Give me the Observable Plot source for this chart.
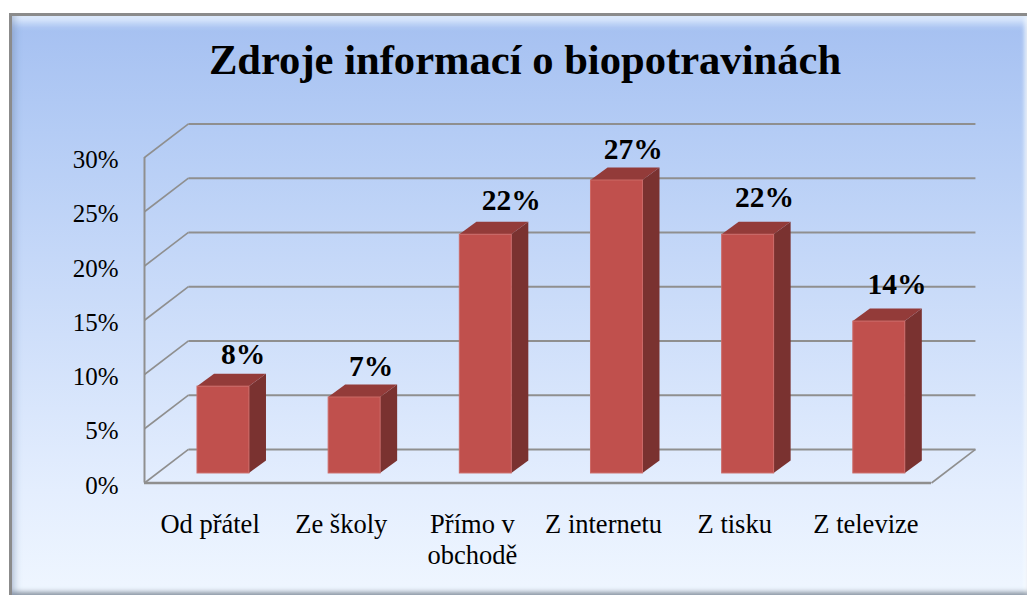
<!DOCTYPE html>
<html lang="cs">
<head>
<meta charset="utf-8">
<script src="https://cdn.jsdelivr.net/npm/d3@7"></script>
<script src="https://cdn.jsdelivr.net/npm/@observablehq/plot@0.6"></script>
<style>
  html, body { margin: 0; padding: 0; background: #fff; width: 1027px; height: 595px; overflow: hidden; }
  #frame {
    position: absolute; left: 9px; top: 13px; width: 1018px; height: 582px; box-sizing: border-box;
    background: linear-gradient(180deg, #a5c0f1 0%, #b4ccf5 20%, #cfdffa 55%, #e4eefe 82%, #eff6ff 100%);
    border-left: 3px solid #8b8b8b; border-top: 3px solid #8b8b8b;
    box-shadow: inset 8px 0 7px -5px rgba(90,110,150,.35),
                inset 0 11px 8px -4px rgba(235,245,255,.85),
                inset 0 -6px 5px -3px rgba(110,120,135,.75),
                inset -5px 0 4px -3px rgba(255,255,255,.9);
  }
  h1 {
    position: absolute; left: 0; top: 37px; width: 1050px; margin: 0; text-align: center;
    font: bold 42.6px/46px "Liberation Serif", serif; color: #000; white-space: nowrap;
  }
  #chart { position: absolute; left: 0; top: 0; }
</style>
</head>
<body>
<div id="frame"></div>
<h1>Zdroje informací o biopotravinách</h1>
<div id="chart"></div>
<script>
const categories = ["Od přátel", "Ze školy", "Přímo v\nobchodě", "Z internetu", "Z tisku", "Z televize"];
const shares = [8, 7, 22, 27, 22, 14];
const yTicks = [0, 5, 10, 15, 20, 25, 30];

// Oblique projection expressed in data units (categories on x, percent on y)
const wallX = 0.335, wallY = 3.09;      // depth of the floor
const barOffsetX = 0.404, barWidth = 0.396;
const barFloorY = 0.88;
const barDepthX = 0.13, barDepthY = 1.15;

const bars = shares.map((v, i) => ({
  i, v,
  x1: i + barOffsetX,
  x2: i + barOffsetX + barWidth,
  y1: barFloorY,
  y2: barFloorY + v
}));
const sideFaces = bars.flatMap(b => [
  {i: b.i, x: b.x2, y1: b.y1, y2: b.y2},
  {i: b.i, x: b.x2 + barDepthX, y1: b.y1 + barDepthY, y2: b.y2 + barDepthY}
]);
const topFaces = bars.flatMap(b => [
  {i: b.i, y: b.y2, x1: b.x1, x2: b.x2},
  {i: b.i, y: b.y2 + barDepthY, x1: b.x1 + barDepthX, x2: b.x2 + barDepthX}
]);
const n = categories.length;
const grid = "#8f8f8f";

// Hand-placed data labels in the original: small shifts per label
const labelShiftX = [0.025, 0, 0.07, 0, 0, 0.01];
const labelShiftY = [0.27, 0.18, 0.45, 0.1, 0.7, 0.7];

const chart = Plot.plot({
  width: 1027,
  height: 595,
  marginLeft: 144,
  marginRight: 96,
  marginTop: 157,
  marginBottom: 112.5,
  style: {background: "transparent", fontFamily: "'Liberation Serif', serif", color: "#000", overflow: "visible"},
  x: {domain: [0, n], range: [144, 931], axis: null},
  y: {domain: [0, 30], range: [482.5, 157], axis: null},
  marks: [
    // back wall lines and floor lines
    Plot.link(yTicks, {x1: wallX, x2: n + wallX, y1: d => d + wallY, y2: d => d + wallY, stroke: grid, strokeWidth: 2}),
    Plot.link(yTicks, {x1: 0, x2: wallX, y1: d => d, y2: d => d + wallY, stroke: grid, strokeWidth: 1.6}),
    Plot.link([0], {x1: n, x2: n + wallX, y1: 0, y2: wallY, stroke: grid, strokeWidth: 1.6}),
    Plot.ruleY([0], {x1: 0, x2: n, stroke: grid, strokeWidth: 2.4}),
    Plot.ruleX([0], {y1: 0, y2: 30, stroke: grid, strokeWidth: 2}),
    // bars
    Plot.areaY(sideFaces, {x: "x", y1: "y1", y2: "y2", z: "i", fill: "#7a3230", curve: "linear"}),
    Plot.areaX(topFaces, {y: "y", x1: "x1", x2: "x2", z: "i", fill: "#933b39", curve: "linear"}),
    Plot.rect(bars, {x1: "x1", x2: "x2", y1: "y1", y2: "y2", fill: "#c0504d", stroke: "#cc6a67", strokeWidth: 1}),
    // value labels
    Plot.text(bars, {
      x: b => b.x1 + barWidth / 2 + barDepthX / 2 + 0.06 + labelShiftX[b.i],
      y: b => b.y2 + barDepthY + labelShiftY[b.i],
      dy: -17,
      text: b => b.v + "%",
      fontSize: 29.5,
      fontWeight: "bold",
      fill: "#000"
    }),
    // axes
    Plot.axisY(yTicks, {
      tickSize: 0, tickPadding: 26, dy: 2.5, fontSize: 25,
      tickFormat: d => d + "%", label: null, fill: "#000"
    }),
    Plot.axisX(d3.range(n).map(i => i + 0.5), {
      tickSize: 0, tickPadding: 28, fontSize: 26.5, lineHeight: 1.17,
      tickFormat: d => categories[d - 0.5], label: null, fill: "#000"
    })
  ]
});
document.getElementById("chart").append(chart);
</script>
</body>
</html>
